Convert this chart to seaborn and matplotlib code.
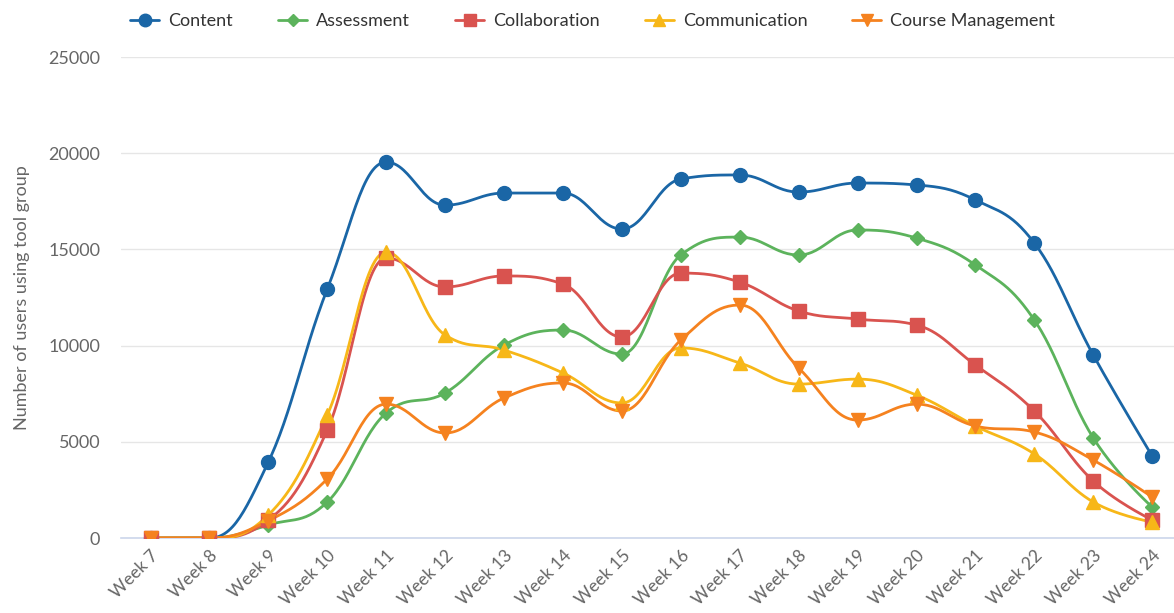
import numpy as np
import pandas as pd
import matplotlib
matplotlib.use("Agg")
import matplotlib.pyplot as plt
import seaborn as sns

weeks = [f"Week {w}" for w in range(7, 25)]
content = [0, 0, 3950, 12940, 19540, 17300, 17930, 17930, 16060, 18660, 18870, 17980, 18450, 18350, 17570, 15330, 9510, 4260]
assessment = [0, 0, 680, 1870, 6500, 7540, 10030, 10810, 9560, 14710, 15640, 14710, 16010, 15590, 14190, 11330, 5200, 1610]
collaboration = [0, 0, 930, 5610, 14550, 13050, 13620, 13200, 10450, 13770, 13300, 11800, 11380, 11070, 8990, 6600, 2960, 940]
communication = [0, 0, 1200, 6390, 14860, 10550, 9770, 8580, 7020, 9880, 9100, 8000, 8260, 7430, 5820, 4370, 1870, 830]
course_mgmt = [0, 0, 900, 3070, 6960, 5460, 7280, 8060, 6600, 10290, 12110, 8840, 6130, 6960, 5820, 5510, 4050, 2130]

series = [
    ("Content", content, "#1a66a6", "o", 10),
    ("Assessment", assessment, "#5cb35c", "D", 7),
    ("Collaboration", collaboration, "#d9534f", "s", 9.5),
    ("Communication", communication, "#f7b718", "^", 10),
    ("Course Management", course_mgmt, "#f5821f", "v", 10),
]


def highcharts_spline(xs, ys, smoothing=1.5, n=30):
    xs = np.asarray(xs, float)
    ys = np.asarray(ys, float)
    m = len(xs)
    lc = [None] * m
    rc = [None] * m
    denom = smoothing + 1
    for i in range(m):
        if 0 < i < m - 1:
            px, py = xs[i], ys[i]
            lx, ly = xs[i - 1], ys[i - 1]
            nx, ny = xs[i + 1], ys[i + 1]
            lcx = (smoothing * px + lx) / denom
            lcy = (smoothing * py + ly) / denom
            rcx = (smoothing * px + nx) / denom
            rcy = (smoothing * py + ny) / denom
            if rcx != lcx:
                corr = ((rcy - lcy) * (rcx - px)) / (rcx - lcx) + py - rcy
                lcy += corr
                rcy += corr
            if lcy > ly and lcy > py:
                lcy = max(ly, py)
                rcy = 2 * py - lcy
            elif lcy < ly and lcy < py:
                lcy = min(ly, py)
                rcy = 2 * py - lcy
            if rcy > ny and rcy > py:
                rcy = max(ny, py)
                lcy = 2 * py - rcy
            elif rcy < ny and rcy < py:
                rcy = min(ny, py)
                lcy = 2 * py - rcy
            lc[i] = (lcx, lcy)
            rc[i] = (rcx, rcy)
        else:
            lc[i] = (xs[i], ys[i])
            rc[i] = (xs[i], ys[i])
    outx, outy = [], []
    t = np.linspace(0, 1, n)
    for i in range(m - 1):
        p0 = np.array([xs[i], ys[i]])
        p1 = np.array(rc[i])
        p2 = np.array(lc[i + 1])
        p3 = np.array([xs[i + 1], ys[i + 1]])
        b = ((1 - t) ** 3)[:, None] * p0 + (3 * (1 - t) ** 2 * t)[:, None] * p1 \
            + (3 * (1 - t) * t ** 2)[:, None] * p2 + (t ** 3)[:, None] * p3
        if i > 0:
            b = b[1:]
        outx.extend(b[:, 0])
        outy.extend(b[:, 1])
    return np.array(outx), np.array(outy)


sns.set_theme(style="white")
plt.rcParams["font.family"] = ["Lato", "DejaVu Sans"]

fig = plt.figure(figsize=(11.74, 6.13), dpi=100)
ax = fig.add_axes([0.1031, 0.1223, 0.8969, 0.7847])

x = np.arange(len(weeks))
handles = []
for name, vals, color, marker, ms in series:
    sx, sy = highcharts_spline(x, vals)
    sns.lineplot(x=sx, y=sy, ax=ax, color=color, linewidth=2.0, sort=False,
                 estimator=None, legend=False, zorder=3)
    ax.plot(x, vals, linestyle="none", marker=marker, markersize=ms,
            color=color, markeredgecolor=color, zorder=4)
    h, = ax.plot([], [], color=color, linewidth=2.0, marker=marker,
                 markersize=ms * 0.9, label=name)
    handles.append(h)

ax.set_ylim(0, 25000)
ax.set_xlim(-0.5, 17.37)
ax.set_yticks([0, 5000, 10000, 15000, 20000, 25000])
ax.set_yticklabels(["0", "5000", "10000", "15000", "20000", "25000"])
ax.yaxis.grid(True, color="#e6e6e6", linewidth=1)
ax.xaxis.grid(False)
for s in ["top", "right", "left"]:
    ax.spines[s].set_visible(False)
ax.spines["bottom"].set_color("#ccd6eb")
ax.spines["bottom"].set_linewidth(1.2)

ax.set_xticks(x)
ax.set_xticklabels(weeks, rotation=45, ha="right", rotation_mode="anchor",
                   fontsize=12.5, color="#666666")
ax.set_xticks(np.arange(-0.5, 17.5, 1), minor=True)
ax.tick_params(axis="x", which="major", length=0, pad=7)
ax.tick_params(axis="x", which="minor", length=11, color="#ccd6eb", width=1.2, direction="out")
ax.tick_params(axis="y", length=0, labelsize=13, labelcolor="#666666", pad=15)

ax.set_ylabel("Number of users using tool group", fontsize=13, color="#666666", labelpad=13)
ax.set_xlabel("")

fig.legend(handles=handles, loc="upper center", bbox_to_anchor=(0.505, 1.005), ncol=5,
           frameon=False, fontsize=13, labelcolor="#333333", handlelength=1.6,
           columnspacing=2.5, handletextpad=0.5)

fig.savefig("out.png", dpi=100, facecolor="white")
